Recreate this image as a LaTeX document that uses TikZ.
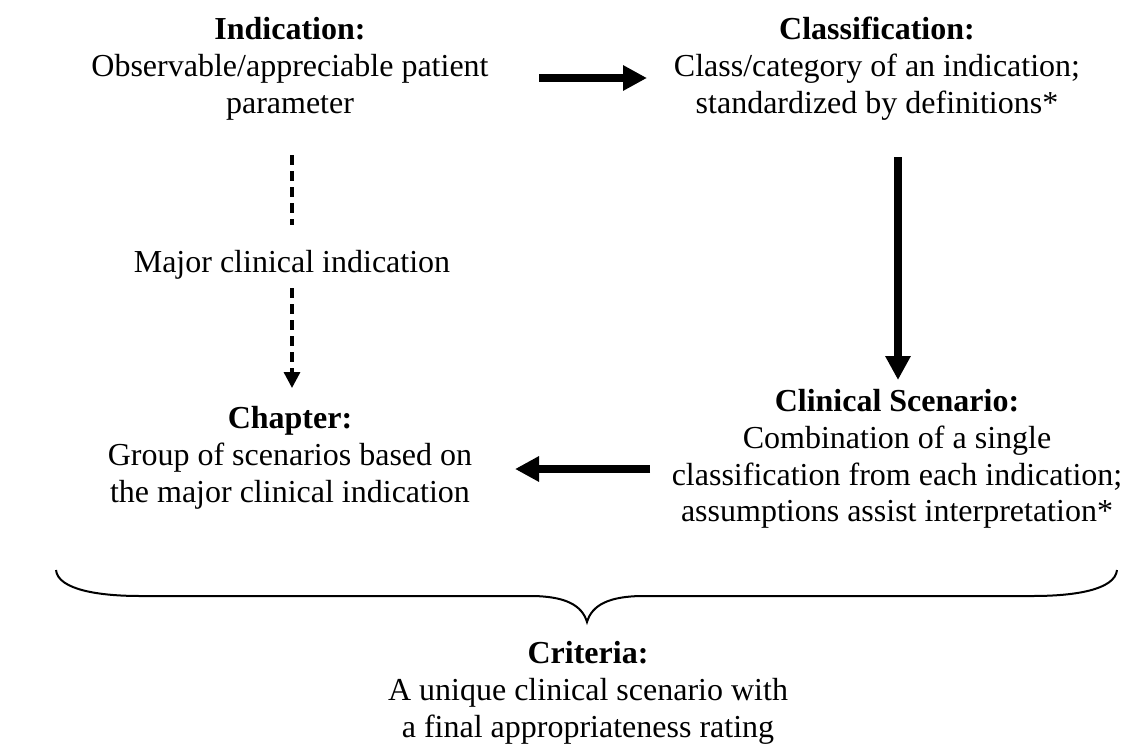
\documentclass[tikz,border=0pt]{standalone}
\usepackage{fontspec}
\setmainfont{Liberation Serif}
\usetikzlibrary{arrows.meta}
\begin{document}
\begin{tikzpicture}[x=0.75pt,y=-0.75pt,
  txt/.style={align=center,inner sep=0pt,anchor=north,font=\fontsize{24}{27.6}\selectfont},
  thick arrow/.style={line width=6pt,-{Triangle[length=18pt,width=18pt]}},
  dash arrow/.style={line width=2.5pt,dash pattern=on 7.5pt off 4.5pt,-{Triangle[length=12pt,width=12pt]}},
  dash line/.style={line width=2.5pt,dash pattern=on 7.5pt off 4.5pt},
  brace/.style={line width=1.5pt}]
\useasboundingbox (0,0) rectangle (1125,753);

\node[txt] (ind) at (290,17) {\textbf{Indication:}\\Observable/appreciable patient\\parameter};
\node[txt] (cls) at (877,17) {\textbf{Classification:}\\Class/category of an indication;\\standardized by definitions*};
\node[txt,anchor=base] (major) at (292,272) {Major clinical indication};
\node[txt] (chap) at (290,406) {\textbf{Chapter:}\\Group of scenarios based on\\the major clinical indication};
\node[txt] (scen) at (897,389) {\textbf{Clinical Scenario:}\\Combination of a single\\classification from each indication;\\assumptions assist interpretation*};
\node[txt] (crit) at (588,641) {\textbf{Criteria:}\\A unique clinical scenario with\\a final appropriateness rating};

\coordinate (a1s) at (539,78);
\coordinate (a1e) at (647,78);
\coordinate (a2s) at (898,157);
\coordinate (a2e) at (898,380);
\coordinate (a3s) at (650,469);
\coordinate (a3e) at (515,469);
\coordinate (d1s) at (292,155);
\coordinate (d1e) at (292,225);
\coordinate (d2s) at (292,288);
\coordinate (d2e) at (292,388);

\draw[thick arrow] (a1s) -- (a1e);
\draw[thick arrow] (a2s) -- (a2e);
\draw[thick arrow] (a3s) -- (a3e);
\draw[dash line] (d1s) -- (d1e);
\draw[dash arrow] (d2s) -- (d2e);

\coordinate (bl) at (56,570);
\coordinate (bt) at (587,622);
\coordinate (br) at (1117,570);
\draw[brace] (bl) .. controls (58,590) and (100,596) .. (140,596) -- (530,596)
  .. controls (565,596) and (582,605) .. (bt)
  .. controls (592,605) and (609,596) .. (644,596) -- (1033,596)
  .. controls (1074,596) and (1115,590) .. (br);
\end{tikzpicture}
\end{document}
